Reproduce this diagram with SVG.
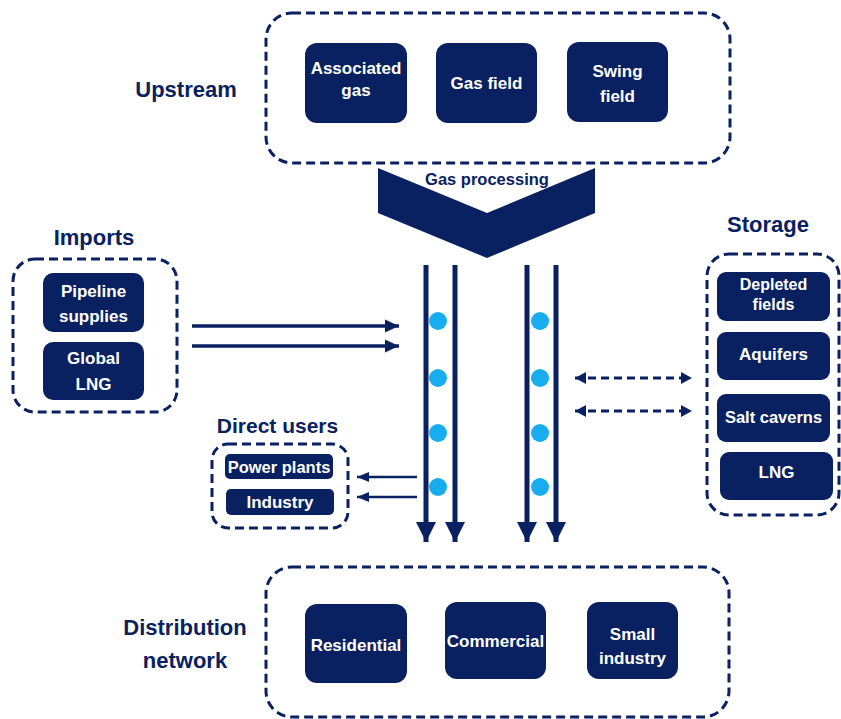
<svg xmlns="http://www.w3.org/2000/svg" width="841" height="719" viewBox="0 0 841 719">
<style>
.bg{fill:#ffffff}
.grp{fill:none;stroke:#0a2161;stroke-width:3;stroke-dasharray:9 5}
.box{fill:#0a2161}
.bt{fill:#ffffff;font-family:"Liberation Sans",Arial,sans-serif;font-weight:bold;font-size:17px;text-anchor:middle}
.lbl{fill:#0a2161;font-family:"Liberation Sans",Arial,sans-serif;font-weight:bold;font-size:22px;text-anchor:middle}
.pipe{stroke:#0a2161;stroke-width:5;fill:none}
.imp{stroke:#0a2161;stroke-width:3.5;fill:none}
.du{stroke:#0a2161;stroke-width:2.5;fill:none}
.dsh{stroke:#0a2161;stroke-width:3;fill:none;stroke-dasharray:8 5}
.dot{fill:#17adee}
</style>
<defs>
<marker id="hPipe" markerUnits="userSpaceOnUse" markerWidth="20" markerHeight="20" refX="20" refY="10" orient="auto" viewBox="0 0 20 20"><path d="M0,0 L20,10 L0,20 Z" fill="#0a2161"/></marker>
<marker id="hImp" markerUnits="userSpaceOnUse" markerWidth="14" markerHeight="14" refX="14" refY="7" orient="auto" viewBox="0 0 14 14"><path d="M0,0.5 L14,7 L0,13.5 Z" fill="#0a2161"/></marker>
<marker id="hDu" markerUnits="userSpaceOnUse" markerWidth="12" markerHeight="12" refX="12" refY="6" orient="auto" viewBox="0 0 12 12"><path d="M0,1 L12,6 L0,11 Z" fill="#0a2161"/></marker>
<marker id="hD" markerUnits="userSpaceOnUse" markerWidth="11" markerHeight="12" refX="11" refY="6" orient="auto-start-reverse" viewBox="0 0 11 12"><path d="M0,0 L11,6 L0,12 Z" fill="#0a2161"/></marker>
</defs>
<rect class="bg" x="0" y="0" width="841" height="719"/>

<g id="upstream">
<rect class="grp" x="266" y="13" width="464" height="150" rx="26"/>
<text class="lbl" x="186" y="97">Upstream</text>
</g>
<g id="associated-gas">
<rect class="box" x="305" y="43" width="102" height="80" rx="12"/>
<text class="bt" x="356" y="74">Associated</text>
<text class="bt" x="356" y="96">gas</text>
</g>
<g id="gas-field">
<rect class="box" x="436" y="43" width="101" height="80" rx="12"/>
<text class="bt" x="486.5" y="89">Gas field</text>
</g>
<g id="swing-field">
<rect class="box" x="567" y="42" width="101" height="80" rx="12"/>
<text class="bt" x="617.5" y="77">Swing</text>
<text class="bt" x="617.5" y="102">field</text>
</g>

<g id="gas-processing">
<polygon class="box" points="378,168 487,213 595,168 595,213 487,258 378,213"/>
<text class="lbl" style="font-size:16.5px" x="487" y="185">Gas processing</text>
</g>

<g id="imports">
<rect class="grp" x="13" y="259" width="164" height="153" rx="22"/>
<text class="lbl" x="94" y="245">Imports</text>
</g>
<g id="pipeline-supplies">
<rect class="box" x="43" y="273" width="101" height="59" rx="10"/>
<text class="bt" x="93.5" y="297">Pipeline</text>
<text class="bt" x="93.5" y="322">supplies</text>
</g>
<g id="global-lng">
<rect class="box" x="43" y="342" width="101" height="58" rx="10"/>
<text class="bt" x="93.5" y="364">Global</text>
<text class="bt" x="93.5" y="390">LNG</text>
</g>

<g id="direct-users">
<rect class="grp" x="212" y="444" width="136" height="84" rx="16"/>
<text class="lbl" style="font-size:21px" x="277.5" y="433">Direct users</text>
</g>
<g id="power-plants">
<rect class="box" x="225" y="454" width="108" height="25" rx="5"/>
<text class="bt" style="font-size:16.5px" x="279" y="473">Power plants</text>
</g>
<g id="industry">
<rect class="box" x="226" y="489" width="108" height="26" rx="5"/>
<text class="bt" x="280" y="508">Industry</text>
</g>

<g id="storage">
<rect class="grp" x="707" y="254" width="132" height="261" rx="22"/>
<text class="lbl" x="768" y="232">Storage</text>
</g>
<g id="depleted-fields">
<rect class="box" x="717" y="272" width="113" height="49" rx="9"/>
<text class="bt" style="font-size:16px" x="773.5" y="290">Depleted</text>
<text class="bt" style="font-size:16px" x="773.5" y="310">fields</text>
</g>
<g id="aquifers">
<rect class="box" x="717" y="332" width="113" height="48" rx="9"/>
<text class="bt" x="773.5" y="360">Aquifers</text>
</g>
<g id="salt-caverns">
<rect class="box" x="717" y="394" width="113" height="48" rx="9"/>
<text class="bt" style="font-size:16.5px" x="773.5" y="423">Salt caverns</text>
</g>
<g id="lng">
<rect class="box" x="720" y="452" width="113" height="48" rx="9"/>
<text class="bt" x="776.5" y="478">LNG</text>
</g>

<g id="distribution-network">
<rect class="grp" x="266" y="567" width="463" height="150" rx="26"/>
<text class="lbl" x="185" y="635">Distribution</text>
<text class="lbl" x="185" y="668">network</text>
</g>
<g id="residential">
<rect class="box" x="305" y="604" width="102" height="79" rx="12"/>
<text class="bt" x="356" y="651">Residential</text>
</g>
<g id="commercial">
<rect class="box" x="445" y="602" width="101" height="77" rx="12"/>
<text class="bt" x="495.5" y="647">Commercial</text>
</g>
<g id="small-industry">
<rect class="box" x="587" y="602" width="91" height="77" rx="12"/>
<text class="bt" x="632.5" y="640">Small</text>
<text class="bt" x="632.5" y="664">industry</text>
</g>

<g id="connectors">
<line class="pipe" x1="426" y1="265" x2="426" y2="542" marker-end="url(#hPipe)"/>
<line class="pipe" x1="455" y1="265" x2="455" y2="542" marker-end="url(#hPipe)"/>
<line class="pipe" x1="527" y1="265" x2="527" y2="542" marker-end="url(#hPipe)"/>
<line class="pipe" x1="556" y1="265" x2="556" y2="542" marker-end="url(#hPipe)"/>
<circle class="dot" cx="438" cy="321" r="9"/>
<circle class="dot" cx="438" cy="378" r="9"/>
<circle class="dot" cx="438" cy="433" r="9"/>
<circle class="dot" cx="438" cy="487" r="9"/>
<circle class="dot" cx="540" cy="321" r="9"/>
<circle class="dot" cx="540" cy="378" r="9"/>
<circle class="dot" cx="540" cy="433" r="9"/>
<circle class="dot" cx="540" cy="487" r="9"/>
<line class="imp" x1="192" y1="326" x2="399" y2="326" marker-end="url(#hImp)"/>
<line class="imp" x1="192" y1="346" x2="399" y2="346" marker-end="url(#hImp)"/>
<line class="du" x1="417" y1="477" x2="357" y2="477" marker-end="url(#hDu)"/>
<line class="du" x1="417" y1="497" x2="357" y2="497" marker-end="url(#hDu)"/>
<line class="dsh" x1="575" y1="378" x2="692" y2="378" marker-start="url(#hD)" marker-end="url(#hD)"/>
<line class="dsh" x1="575" y1="411" x2="692" y2="411" marker-start="url(#hD)" marker-end="url(#hD)"/>
</g>
</svg>
